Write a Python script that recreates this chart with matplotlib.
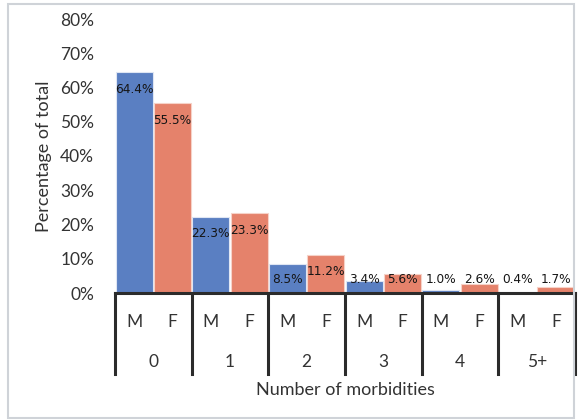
import matplotlib
matplotlib.use("Agg")
import matplotlib.pyplot as plt
import numpy as np
from matplotlib.patches import Rectangle
from matplotlib.lines import Line2D

categories = ["0", "1", "2", "3", "4", "5+"]
male = [64.4, 22.3, 8.5, 3.4, 1.0, 0.4]
female = [55.5, 23.3, 11.2, 5.6, 2.6, 1.7]
sex_labels = ["M", "F"]
yticks = [0, 10, 20, 30, 40, 50, 60, 70, 80]

plt.rcParams['font.family'] = ['Lato', 'DejaVu Sans']

W, H = 583, 420
fig = plt.figure(figsize=(W / 100, H / 100), dpi=100)
fig.patch.set_facecolor('white')

# outer light border
fig.add_artist(Rectangle((8 / W, 2 / H), (W - 9) / W - 8 / W, (H - 4) / H - 2 / H,
                         transform=fig.transFigure, fill=False,
                         edgecolor='#cfd3d8', linewidth=1.5))

left, right, bottom, top = 115 / W, 575 / W, 1 - 293 / H, 1 - 19 / H
ax = fig.add_axes([left, bottom, right - left, top - bottom])

n = len(categories)
x = np.arange(n)
bw = 0.48
blue = '#5a7fc2'
orange = '#e5826b'
ax.bar(x - 0.25, male, width=bw, color=blue, edgecolor='#dfe6f3', linewidth=0.8)
ax.bar(x + 0.25, female, width=bw, color=orange, edgecolor='#f6d2c8', linewidth=0.8)

def lab_y(v):
    return max(v - 5.0, 3.8)

for i in range(n):
    ax.text(x[i] - 0.25, lab_y(male[i]), f"{male[i]:.1f}%", ha='center', va='center',
            fontsize=8.7, color='#151515', family=['DejaVu Sans'])
    ax.text(x[i] + 0.25, lab_y(female[i]), f"{female[i]:.1f}%", ha='center', va='center',
            fontsize=8.7, color='#151515', family=['DejaVu Sans'])

ax.set_xlim(-0.5, n - 0.5)
ax.set_ylim(0, 80)
ax.set_yticks(yticks)
ax.set_yticklabels([f"{t}%" for t in yticks], fontsize=12.5, color='#333333')
ax.tick_params(axis='y', length=0, pad=15)
ax.set_xticks([])
for s in ['left', 'right', 'top', 'bottom']:
    ax.spines[s].set_visible(False)

ax.set_ylabel("Percentage of total", fontsize=13, color='#333333', labelpad=6)

# category table below axis
tr = ax.get_xaxis_transform()
y_line_bottom = -(374 - 293) / (293 - 19)
ax.add_line(Line2D([-0.5, n - 0.5], [0, 0], transform=tr, color='#2b2b2b',
                   linewidth=2.2, clip_on=False))
for b in np.arange(n + 1) - 0.5:
    ax.add_line(Line2D([b, b], [0, y_line_bottom], transform=tr, color='#2b2b2b',
                       linewidth=2.2, clip_on=False))
y_sex = -(322 - 293) / (293 - 19)
y_cat = -(362 - 293) / (293 - 19)
for i in range(n):
    ax.text(x[i] - 0.25, y_sex, sex_labels[0], transform=tr, ha='center', va='center',
            fontsize=12.5, color='#333333')
    ax.text(x[i] + 0.25, y_sex, sex_labels[1], transform=tr, ha='center', va='center',
            fontsize=12.5, color='#333333')
    ax.text(x[i], y_cat, categories[i], transform=tr, ha='center', va='center',
            fontsize=12.5, color='#333333')

y_xl = -(390 - 293) / (293 - 19)
ax.text((n - 1) / 2, y_xl, "Number of morbidities", transform=tr, ha='center', va='center',
        fontsize=13, color='#333333')

fig.savefig("out.png", dpi=100)
